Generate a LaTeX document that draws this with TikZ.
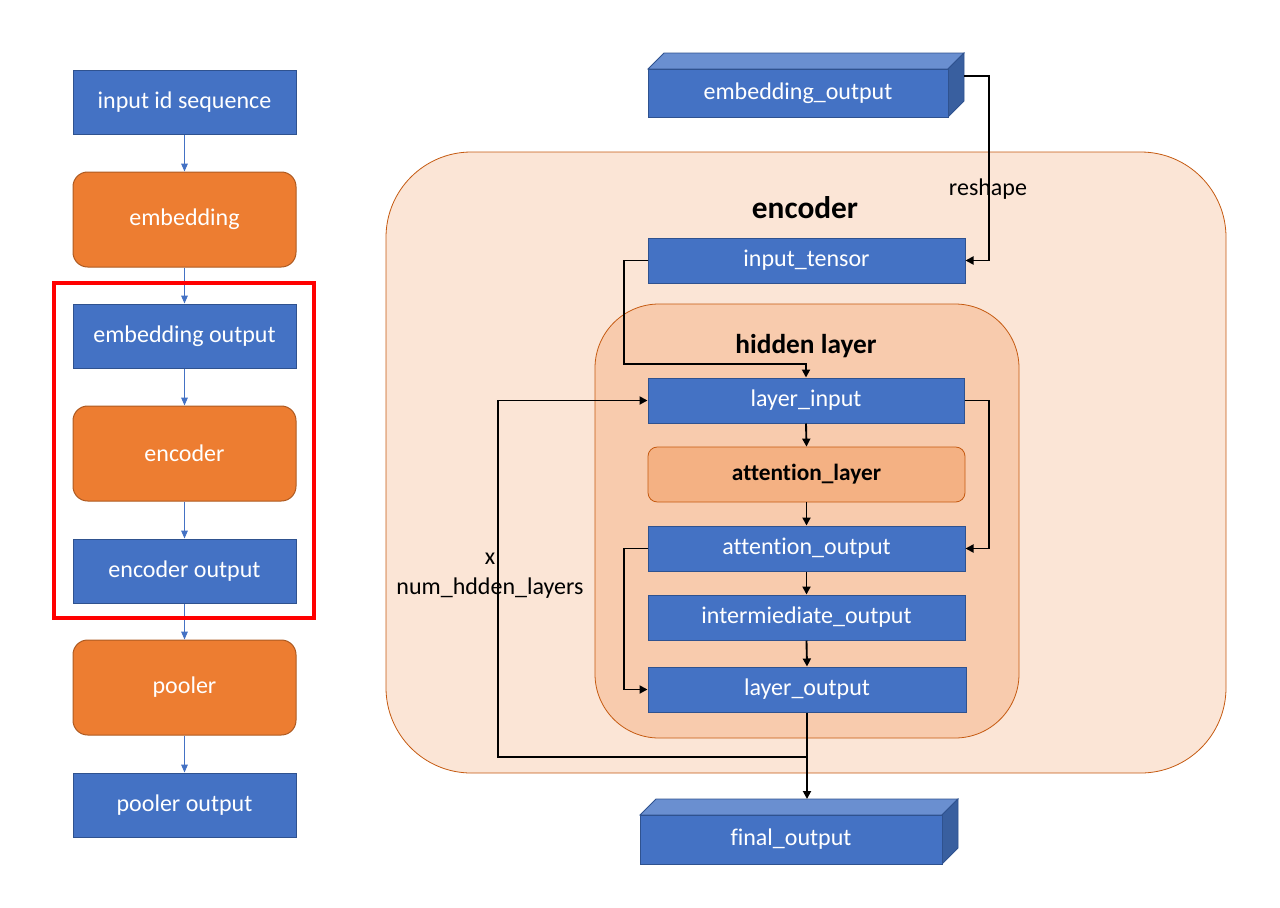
\documentclass[tikz,border=0pt]{standalone}
\usepackage{fontspec}
\setmainfont[Ligatures=NoCommon]{Carlito}
\usetikzlibrary{arrows.meta,calc}
\definecolor{bblue}{HTML}{4472C4}
\definecolor{bblueD}{HTML}{2F528F}
\definecolor{bblueT}{HTML}{6A8FD0}
\definecolor{bblueS}{HTML}{395F9F}
\definecolor{oorange}{HTML}{ED7D31}
\definecolor{oorangeD}{HTML}{AE5A21}
\definecolor{encfill}{HTML}{FBE5D6}
\definecolor{encdraw}{HTML}{C55A11}
\definecolor{hidfill}{HTML}{F8CBAD}
\definecolor{attfill}{HTML}{F4B183}
\tikzset{
  txt/.style={font=\fontsize{18}{21}\selectfont},
  bluebox/.style={txt,draw=bblueD,fill=bblue,text=white,line width=0.75pt,inner sep=0pt},
  orangebox/.style={txt,draw=oorangeD,fill=oorange,text=white,line width=0.75pt,rounded corners=11pt,inner sep=0pt},
  attbox/.style={font=\fontsize{17.5}{20}\selectfont\bfseries,draw=encdraw,fill=attfill,text=black,line width=0.6pt,rounded corners=7pt,inner sep=0pt},
  barr/.style={draw=bblue,line width=0.75pt,-{Triangle[length=6pt,width=5pt]}},
  karr/.style={draw=black,line width=1.4pt,-{Triangle[length=6pt,width=6pt]}},
  kline/.style={draw=black,line width=1.4pt},
}
\begin{document}
\begin{tikzpicture}[x=0.75pt,y=-0.75pt]
\useasboundingbox (0,0) rectangle (1280,907);
% ---------- left column ----------
\node[bluebox,minimum width=223*0.75pt,minimum height=64*0.75pt] (ids) at (184.5,102) {input id sequence};
\node[orangebox,minimum width=223*0.75pt,minimum height=95*0.75pt] (emb) at (184.5,219.5) {embedding};
\node[bluebox,minimum width=223*0.75pt,minimum height=64*0.75pt] (embo) at (184.5,336) {embedding output};
\node[orangebox,minimum width=223*0.75pt,minimum height=95*0.75pt] (enc) at (184.5,453.5) {encoder};
\node[bluebox,minimum width=223*0.75pt,minimum height=64*0.75pt] (enco) at (184.5,571) {encoder output};
\node[orangebox,minimum width=223*0.75pt,minimum height=95*0.75pt] (pool) at (184.5,687.5) {pooler};
\node[bluebox,minimum width=223*0.75pt,minimum height=64*0.75pt] (poolo) at (184.5,805) {pooler output};
\draw[barr] (ids) -- (emb);
\draw[barr] (emb) -- (embo);
\draw[barr] (embo) -- (enc);
\draw[barr] (enc) -- (enco);
\draw[barr] (enco) -- (pool);
\draw[barr] (pool) -- (poolo);
\draw[red,line width=2.4pt] (54,283) rectangle (314,618);
% ---------- encoder ----------
\node[draw=encdraw,fill=encfill,line width=0.6pt,rounded corners=64pt,minimum width=840*0.75pt,minimum height=621*0.75pt,inner sep=0pt] (encbox) at (806,462.5) {};
\node[font=\fontsize{23.5}{26}\selectfont\bfseries] (enclab) at (805,208) {encoder};
\node[draw=encdraw,fill=hidfill,line width=0.6pt,rounded corners=48pt,minimum width=424*0.75pt,minimum height=434*0.75pt,inner sep=0pt] (hidbox) at (807,521) {};
\node[font=\fontsize{20.5}{23}\selectfont\bfseries] (hidlab) at (806,346) {hidden layer};
% top 3D box
\fill[bblueT,draw=bblueD,line width=0.6pt] (648,69) -- (664,53) -- (964,53) -- (948,69) -- cycle;
\fill[bblueS,draw=bblueD,line width=0.6pt] (948,69) -- (964,53) -- (964,101) -- (948,117) -- cycle;
\node[bluebox,line width=0.6pt,minimum width=300*0.75pt,minimum height=48*0.75pt] (eo) at (798,93) {embedding\_output};
\coordinate (eoR) at (964,76);
% bottom 3D box
\fill[bblueT,draw=bblueD,line width=0.6pt] (640,815) -- (656,799) -- (958,799) -- (942,815) -- cycle;
\fill[bblueS,draw=bblueD,line width=0.6pt] (942,815) -- (958,799) -- (958,848) -- (942,864) -- cycle;
\node[bluebox,line width=0.6pt,minimum width=302*0.75pt,minimum height=49*0.75pt] (fo) at (791,839.5) {final\_output};
\coordinate (foTop) at (807,799);
% inner nodes
\node[bluebox,minimum width=317*0.75pt,minimum height=45*0.75pt] (it) at (806.5,260.5) {input\_tensor};
\node[bluebox,minimum width=316*0.75pt,minimum height=45*0.75pt] (li) at (806,400.5) {layer\_input};
\node[attbox,minimum width=317*0.75pt,minimum height=55*0.75pt] (al) at (806.5,474.5) {attention\_layer};
\node[bluebox,minimum width=317*0.75pt,minimum height=45*0.75pt] (ao) at (806.5,548.5) {attention\_output};
\node[bluebox,minimum width=317*0.75pt,minimum height=45*0.75pt] (io) at (806.5,617.5) {intermiediate\_output};
\node[bluebox,minimum width=318*0.75pt,minimum height=45*0.75pt] (lo) at (807,689.5) {layer\_output};
% connectors
\draw[karr] (eoR) -- (989,76) |- (it.east);
\node[txt] (resh) at (988,189) {reshape};
\draw[karr] (it.west) -- (624,260.5) |- (806,364) -- (li.north);
\draw[karr] (li.south) -- (al.north);
\draw[karr] (al.south) -- (ao.north);
\draw[karr] (li.east) -- (989,400.5) |- (ao.east);
\draw[karr] (ao.west) -- (624,548.5) |- (lo.west);
\draw[karr] (ao.south) -- (io.north);
\draw[karr] (io.south) -- (lo.north);
\draw[karr] (lo.south) -- (foTop);
\draw[karr] (807,757) -- (498,757) |- (li.west);
\node[txt] (xlab) at (490,559) {x};
\node[txt] (nlab) at (490,588) {num\_hdden\_layers};
\end{tikzpicture}
\end{document}
